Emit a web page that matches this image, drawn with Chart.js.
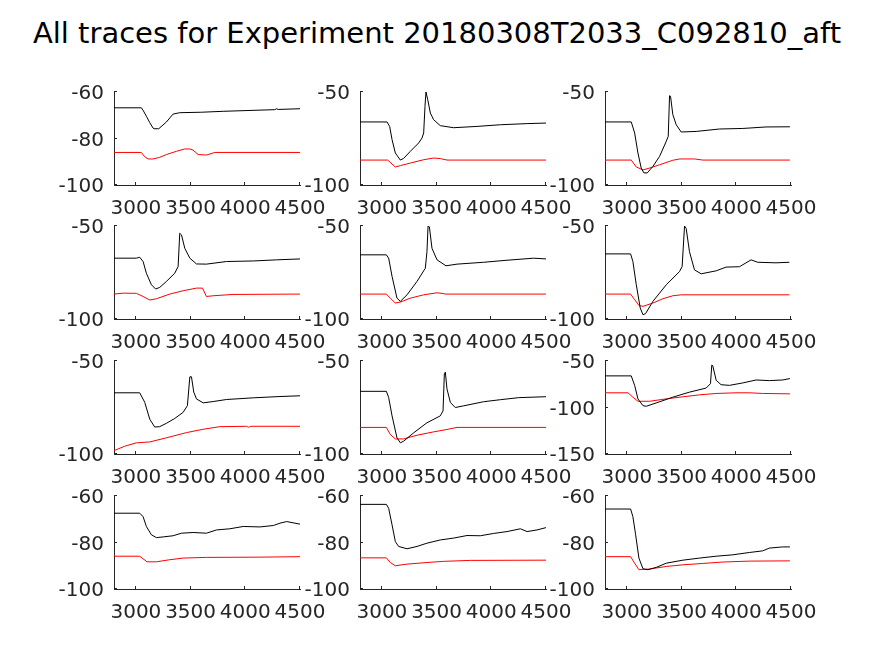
<!DOCTYPE html>
<html><head><meta charset="utf-8">
<script src="https://cdn.jsdelivr.net/npm/chart.js@4.4.1/dist/chart.umd.min.js"></script>
<style>
html,body{margin:0;padding:0;background:#fff;}
#wrap{position:relative;width:874px;height:656px;overflow:hidden;background:#fff;}
#title{position:absolute;left:0;width:874px;top:19px;text-align:center;font-family:"DejaVu Sans";font-size:29px;color:#000;line-height:29px;white-space:nowrap;}
canvas{position:absolute;}
</style></head><body>
<div id="wrap"><div id="title">All traces for Experiment 20180308T2033_C092810_aft</div></div>
<script>
// ---- data ----
const xRange = [2800, 4500];
const xTicks = [3000, 3500, 4000, 4500];
const yRanges = [[-100,-60],[-100,-50],[-100,-50],[-100,-50],[-100,-50],[-100,-50],[-100,-50],[-100,-50],[-150,-50],[-100,-60],[-100,-60],[-100,-60]];
const yTicks = [[-100,-80,-60],[-100,-50],[-100,-50],[-100,-50],[-100,-50],[-100,-50],[-100,-50],[-100,-50],[-150,-100,-50],[-100,-80,-60],[-100,-80,-60],[-100,-80,-60]];

const black1 = [[2800,-66.8],[3050,-66.8],[3065,-67.8],[3096,-70.4],[3127,-73.2],[3157,-75.5],[3166,-75.8],[3209,-75.8],[3279,-72.9],[3340,-69.5],[3401,-68.9],[3600,-68.7],[3798,-68.3],[4134,-67.8],[4270,-67.6],[4286,-67.2],[4300,-67.5],[4500,-67.2]];
const red1 = [[2800,-86.0],[3050,-86.0],[3080,-87.8],[3111,-88.8],[3157,-88.8],[3218,-88.1],[3279,-86.9],[3371,-85.5],[3447,-84.5],[3493,-84.5],[3523,-85.0],[3569,-86.9],[3645,-87.1],[3722,-86.0],[4500,-86.0]];
const black2 = [[2800,-66.1],[3047,-66.1],[3071,-68.5],[3093,-75.6],[3123,-82.8],[3169,-86.6],[3199,-85.7],[3260,-81.9],[3336,-77.4],[3367,-74.7],[3382,-72.0],[3394,-57.7],[3403,-50],[3419,-54.1],[3443,-61.3],[3473,-64.9],[3534,-68.1],[3656,-69.2],[3869,-68.5],[4083,-67.6],[4327,-67.0],[4500,-66.7]];
const red2 = [[2800,-86.6],[3053,-86.6],[3123,-90.3],[3169,-89.6],[3260,-88.2],[3382,-86.4],[3473,-85.5],[3534,-85.8],[3595,-86.6],[4500,-86.6]];
const black3 = [[2800,-66.1],[3040,-66.1],[3071,-72.0],[3101,-82.8],[3131,-90.9],[3156,-93.5],[3186,-93.5],[3238,-90.0],[3299,-84.6],[3360,-76.5],[3378,-73.8],[3390,-52.0],[3399,-52.3],[3420,-62.2],[3451,-67.6],[3496,-71.5],[3633,-71.2],[3846,-69.9],[4059,-69.6],[4272,-68.8],[4490,-68.7]];
const red3 = [[2800,-86.6],[3040,-86.6],[3086,-90.3],[3147,-91.9],[3207,-90.9],[3299,-89.1],[3420,-86.7],[3481,-86.0],[3618,-86.0],[3694,-86.6],[4490,-86.6]];
const black4 = [[2800,-67.3],[3004,-67.3],[3035,-66.8],[3066,-69.1],[3096,-75.4],[3142,-81.6],[3181,-83.9],[3218,-83.0],[3279,-79.8],[3355,-75.4],[3386,-71.8],[3401,-53.9],[3417,-54.8],[3447,-62.0],[3493,-67.3],[3554,-70.4],[3645,-70.5],[3828,-69.1],[4073,-68.8],[4286,-68.2],[4500,-67.7]];
const red4 = [[2800,-86.6],[2882,-86.1],[3004,-86.2],[3066,-87.9],[3127,-89.8],[3188,-89.1],[3310,-86.6],[3432,-84.8],[3554,-83.4],[3609,-83.4],[3645,-87.9],[3706,-87.5],[3889,-86.8],[4500,-86.6]];
const black5 = [[2800,-65.5],[3041,-65.5],[3062,-67.3],[3093,-77.1],[3138,-88.8],[3169,-90.5],[3230,-87.0],[3321,-79.8],[3397,-72.7],[3412,-63.8],[3422,-50],[3434,-50.4],[3458,-62.0],[3504,-68.2],[3586,-71.4],[3687,-70.5],[3930,-69.5],[4144,-68.4],[4388,-67.3],[4500,-67.7]];
const red5 = [[2800,-86.6],[3041,-86.6],[3077,-88.8],[3123,-91.4],[3169,-90.9],[3260,-88.8],[3382,-87.0],[3504,-85.9],[3559,-86.3],[3580,-86.6],[4500,-86.6]];
const black6 = [[2800,-65.0],[3034,-65.0],[3055,-69.1],[3086,-81.6],[3122,-94.1],[3147,-97.7],[3171,-97.1],[3238,-90.5],[3360,-81.6],[3481,-74.5],[3505,-71.8],[3527,-50],[3542,-51.3],[3572,-63.8],[3618,-73.6],[3679,-75.7],[3816,-74.1],[3907,-72.1],[4029,-71.9],[4135,-68.2],[4196,-69.5],[4363,-69.8],[4485,-69.5]];
const red6 = [[2800,-86.6],[3034,-86.6],[3071,-89.6],[3110,-92.7],[3147,-93.2],[3238,-91.4],[3329,-89.1],[3420,-87.5],[3496,-87.0],[4485,-87.0]];
const black7 = [[2800,-67.1],[3035,-67.1],[3081,-72.2],[3127,-81.3],[3172,-85.5],[3218,-85.3],[3279,-83.5],[3355,-80.9],[3432,-77.6],[3471,-74.0],[3493,-58.5],[3508,-58.5],[3529,-66.7],[3554,-70.4],[3615,-72.5],[3706,-71.8],[3828,-70.7],[4073,-69.8],[4317,-69.1],[4500,-68.7]];
const red7 = [[2800,-98.2],[2898,-95.8],[3004,-94.0],[3127,-93.5],[3279,-91.3],[3462,-88.5],[3615,-86.7],[3767,-85.3],[4012,-85.1],[4030,-85.6],[4050,-85.1],[4500,-85.1]];
const black8 = [[2800,-66.3],[3041,-66.3],[3062,-69.6],[3093,-79.5],[3138,-91.3],[3169,-94.0],[3199,-93.1],[3291,-88.6],[3412,-83.2],[3534,-79.5],[3559,-76.8],[3571,-56.9],[3580,-56.0],[3595,-65.0],[3626,-72.3],[3671,-75.0],[3748,-74.1],[3930,-71.9],[4083,-70.8],[4250,-69.7],[4500,-69.2]];
const red8 = [[2800,-85.7],[3041,-85.7],[3077,-89.5],[3123,-91.9],[3199,-91.9],[3321,-89.9],[3473,-88.1],[3595,-86.8],[3687,-85.7],[4500,-85.7]];
const black9 = [[2800,-66.0],[3040,-66.0],[3071,-76.2],[3101,-90.7],[3147,-98.0],[3177,-98.7],[3268,-95.1],[3420,-88.9],[3572,-83.5],[3724,-79.1],[3764,-74.4],[3776,-54.4],[3785,-55.1],[3816,-70.7],[3861,-75.5],[3937,-76.2],[4059,-73.6],[4181,-70.4],[4302,-71.1],[4424,-70.4],[4490,-68.9]];
const red9 = [[2800,-84.2],[3010,-84.2],[3055,-88.9],[3101,-93.3],[3207,-93.3],[3360,-90.7],[3512,-88.5],[3664,-86.4],[3816,-84.9],[3998,-84.2],[4120,-84.2],[4241,-84.9],[4490,-85.3]];
const black10 = [[2800,-67.4],[3035,-67.4],[3066,-68.9],[3096,-73.1],[3142,-76.7],[3188,-77.9],[3249,-77.6],[3340,-77.1],[3416,-76.0],[3523,-75.7],[3645,-76.0],[3737,-74.6],[3859,-74.1],[3981,-73.1],[4134,-73.3],[4256,-72.7],[4317,-71.7],[4378,-71.0],[4500,-72.1]];
const red10 = [[2800,-85.9],[3035,-85.9],[3102,-88.3],[3188,-88.3],[3310,-87.4],[3432,-86.7],[3645,-86.4],[4134,-86.3],[4500,-86.1]];
const black11 = [[2800,-63.6],[3041,-63.6],[3062,-65.3],[3093,-72.4],[3123,-79.6],[3153,-81.7],[3230,-82.7],[3321,-81.7],[3412,-80.3],[3534,-78.9],[3656,-78.1],[3778,-77.0],[3900,-77.1],[4022,-76.1],[4144,-75.3],[4266,-74.1],[4327,-75.3],[4418,-74.6],[4500,-73.6]];
const red11 = [[2800,-86.6],[3041,-86.6],[3077,-88.6],[3123,-90.0],[3230,-89.3],[3412,-88.6],[3565,-88.1],[3809,-87.7],[4500,-87.6]];
const black12 = [[2800,-65.6],[3034,-65.6],[3055,-68.9],[3080,-76.7],[3110,-86.7],[3147,-91.3],[3192,-91.7],[3268,-90.7],[3360,-88.9],[3512,-87.6],[3664,-86.7],[3816,-85.9],[3968,-85.3],[4120,-84.3],[4241,-83.6],[4302,-82.4],[4424,-81.9],[4490,-81.9]];
const red12 = [[2800,-86.1],[3034,-86.1],[3071,-88.9],[3110,-91.7],[3207,-91.4],[3360,-90.3],[3512,-89.6],[3694,-89.0],[3877,-88.4],[4120,-88.0],[4490,-87.9]];

const blackTraces = [black1,black2,black3,black4,black5,black6,black7,black8,black9,black10,black11,black12];
const redTraces = [red1,red2,red3,red4,red5,red6,red7,red8,red9,red10,red11,red12];

// ---- layout ----
const colLeft = [114, 360, 605];
const rowTop = [92, 226, 361, 496];
const W = 186, H = 93;
const PL = 70, PT = 30, PR = 50, PB = 45;
const AX = '#262626';
const FONT = {family: 'DejaVu Sans', size: 20};

const innerTicks = {
  id: 'innerTicks',
  afterDraw(chart) {
    const ctx = chart.ctx, xs = chart.scales.x, ys = chart.scales.y, a = chart.chartArea;
    ctx.save(); ctx.strokeStyle = AX; ctx.lineWidth = 1; ctx.beginPath();
    xs.ticks.forEach(t => { const p = Math.round(xs.getPixelForValue(t.value)) - 0.5; ctx.moveTo(p, a.bottom); ctx.lineTo(p, a.bottom - 3); });
    ys.ticks.forEach(t => { const p = Math.round(ys.getPixelForValue(t.value)) - 0.5; ctx.moveTo(a.left, p); ctx.lineTo(a.left + 3, p); });
    ctx.stroke(); ctx.restore();
  }
};

const wrap = document.getElementById('wrap');
for (let i = 0; i < 12; i++) {
  const r = Math.floor(i / 3), c = i % 3;
  const cv = document.createElement('canvas');
  cv.width = W + PL + PR; cv.height = H + PT + PB;
  cv.style.left = (colLeft[c] - PL) + 'px';
  cv.style.top = (rowTop[r] - PT) + 'px';
  cv.style.width = cv.width + 'px'; cv.style.height = cv.height + 'px';
  wrap.appendChild(cv);
  const yv = yTicks[i];
  new Chart(cv, {
    type: 'line',
    data: {
      datasets: [
        {data: blackTraces[i].map(p => ({x: p[0], y: p[1]})), borderColor: '#000000', borderWidth: 1, pointRadius: 0, tension: 0},
        {data: redTraces[i].map(p => ({x: p[0], y: p[1]})), borderColor: '#ff0000', borderWidth: 1, pointRadius: 0, tension: 0}
      ]
    },
    options: {
      responsive: false, animation: false, devicePixelRatio: 1,
      layout: {padding: {left: 0, top: PT, right: PR, bottom: 0}},
      plugins: {legend: {display: false}, tooltip: {enabled: false}},
      scales: {
        x: {
          type: 'linear', min: xRange[0], max: xRange[1],
          afterBuildTicks: s => { s.ticks = xTicks.map(v => ({value: v})); },
          afterFit: s => { s.height = PB; },
          grid: {display: true, drawOnChartArea: false, drawTicks: false},
          border: {display: true, color: AX, width: 1},
          ticks: {font: FONT, color: AX, padding: 12, maxRotation: 0, autoSkip: false, callback: v => String(v)}
        },
        y: {
          type: 'linear', min: yRanges[i][0], max: yRanges[i][1],
          afterBuildTicks: s => { s.ticks = yv.map(v => ({value: v})); },
          afterFit: s => { s.width = PL; },
          grid: {display: true, drawOnChartArea: false, drawTicks: false},
          border: {display: true, color: AX, width: 1},
          ticks: {font: FONT, color: AX, padding: 10, labelOffset: 2, autoSkip: false, callback: v => String(v)}
        }
      }
    },
    plugins: [innerTicks]
  });
}
</script>
</body></html>
